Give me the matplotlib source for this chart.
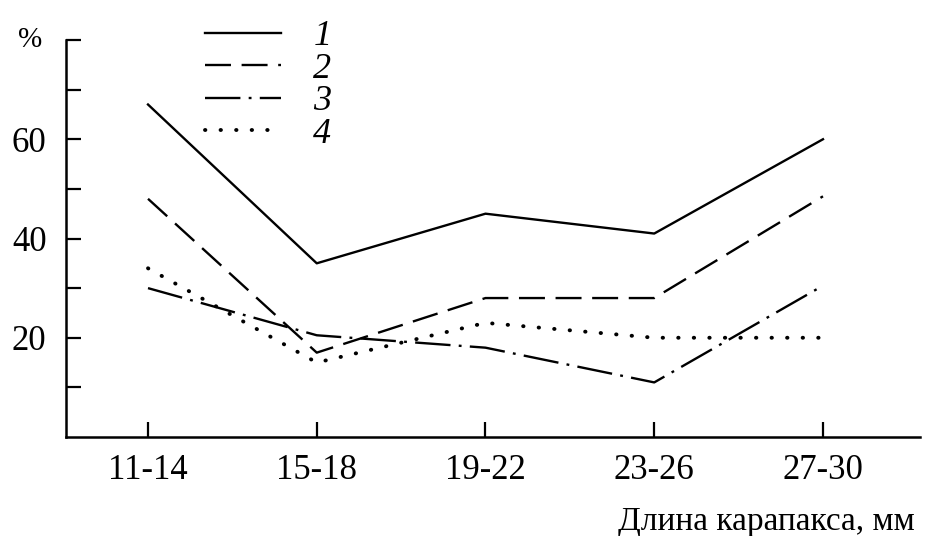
import matplotlib
matplotlib.use("Agg")
import matplotlib.pyplot as plt

categories = ["11-14", "15-18", "19-22", "23-26", "27-30"]
series1 = [67, 35, 45, 41, 60]
series2 = [48, 17, 28, 28, 48.5]
series3 = [30, 20.5, 18, 11, 30.5]
series4 = [34, 15, 23, 20, 20]
legend_labels = ["1", "2", "3", "4"]
yticks_major = [10, 20, 30, 40, 50, 60, 70, 80]
ytick_labels = ["", "20", "", "40", "", "60", "", ""]

plt.rcParams['font.family'] = ['Liberation Serif', 'DejaVu Serif']

fig = plt.figure(figsize=(9.25, 5.36), dpi=100)
ax = fig.add_axes([66/925, 1-437/536, (920-66)/925, (437-40)/536])

x = list(range(len(categories)))
lw = 1.7
l1, = ax.plot(x, series1, color='black', lw=lw, linestyle='-')
l2, = ax.plot(x, series2, color='black', lw=lw, linestyle=(0, (11, 4.5)))
l3, = ax.plot(x, series3, color='black', lw=lw, linestyle=(0, (15, 3.5, 1.2, 3.5)))
l4, = ax.plot(x, series4, color='black', lw=2.8, linestyle=(0, (0.1, 3.9)),
              dash_capstyle='round')

ax.set_xlim(-0.486, 4.575)
ax.set_ylim(0, 80)
ax.set_xticks(x)
ax.set_xticklabels(categories, fontsize=25)
ax.set_yticks(yticks_major)
ax.set_yticklabels(ytick_labels, fontsize=25)
ax.tick_params(axis='both', direction='in', length=11, width=1.6, color='black')
ax.tick_params(axis='x', pad=12)
ax.tick_params(axis='y', pad=14)
for s in ['top', 'right']:
    ax.spines[s].set_visible(False)
for s in ['left', 'bottom']:
    ax.spines[s].set_linewidth(1.8)

leg = fig.legend([l1, l2, l3, l4], legend_labels, loc='upper left',
                 bbox_to_anchor=(205/925, 1-20/536), bbox_transform=fig.transFigure,
                 frameon=False, prop={'family': 'Liberation Serif', 'style': 'italic', 'size': 26},
                 handlelength=2.1, handletextpad=0.9, labelspacing=-0.02,
                 borderpad=0, borderaxespad=0)

fig.text(30/925, 1-40/536, "%", fontsize=21, ha='center', va='center')
fig.text(915/925, 1-530/536, "Длина карапакса, мм", fontsize=24, ha='right', va='baseline')

fig.savefig("out.png", dpi=100)
